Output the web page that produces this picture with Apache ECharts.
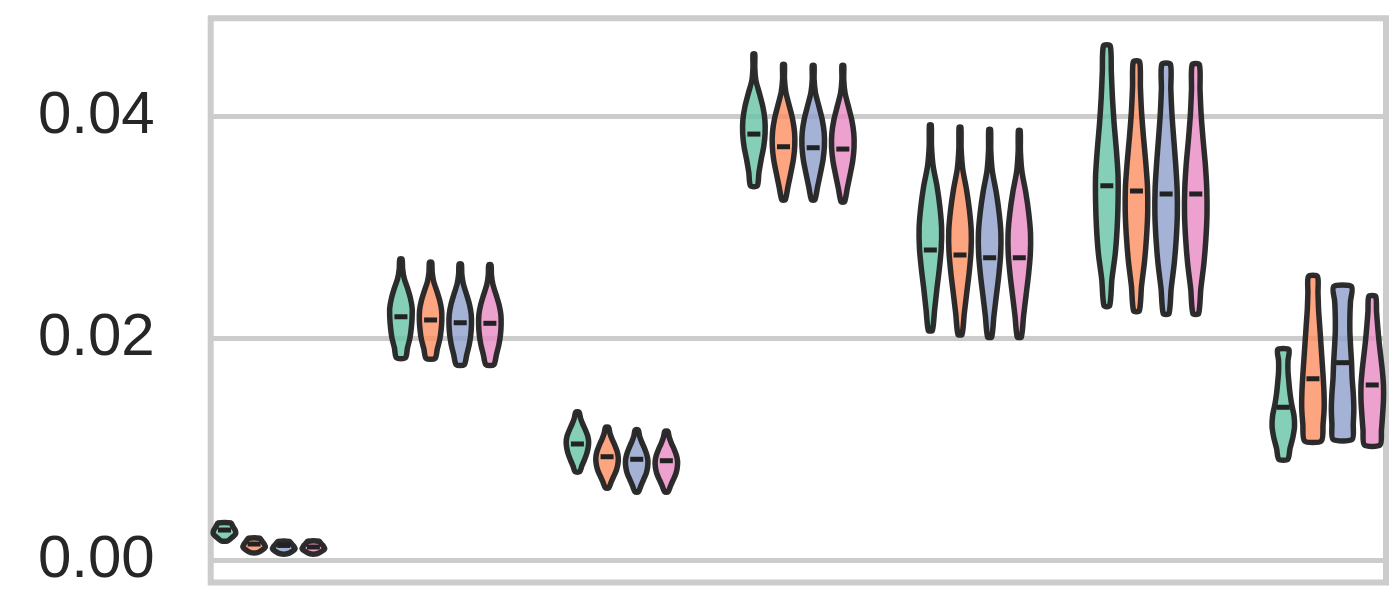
<!DOCTYPE html>
<html>
<head>
<meta charset="utf-8">
<script src="https://cdn.jsdelivr.net/npm/echarts@6/dist/echarts.min.js"></script>
<style>html,body{margin:0;padding:0;background:#fff}#c{width:1400px;height:600px}</style>
</head>
<body>
<div id="c"></div>
<script>
// ---- data ----
const groupPos = [0, 1, 2, 3, 4, 5, 6];
const hueNames = ['h1', 'h2', 'h3', 'h4'];
const hueOffset = [-0.252, -0.084, 0.084, 0.252];
const yTicks = [0, 0.02, 0.04];

// per group: [hue1, hue2, hue3, hue4]
const violinMin = [
  [0.00173, 0.00066, 0.00056, 0.00056],
  [0.01823, 0.01817, 0.01760, 0.01760],
  [0.00795, 0.00651, 0.00615, 0.00615],
  [0.03373, 0.03247, 0.03247, 0.03229],
  [0.02070, 0.02034, 0.02012, 0.02012],
  [0.02292, 0.02245, 0.02220, 0.02220],
  [0.00907, 0.01073, 0.01087, 0.01037]
];
const violinMax = [
  [0.00334, 0.00196, 0.00167, 0.00169],
  [0.02714, 0.02684, 0.02668, 0.02660],
  [0.01332, 0.01196, 0.01172, 0.01160],
  [0.04562, 0.04466, 0.04457, 0.04457],
  [0.03922, 0.03901, 0.03880, 0.03871],
  [0.04637, 0.04493, 0.04471, 0.04466],
  [0.01897, 0.02558, 0.02465, 0.02377]
];
const violinMedian = [
  [0.00270, 0.00144, 0.00131, 0.00117],
  [0.02193, 0.02164, 0.02139, 0.02134],
  [0.01046, 0.00931, 0.00908, 0.00895],
  [0.03840, 0.03726, 0.03717, 0.03705],
  [0.02795, 0.02750, 0.02725, 0.02725],
  [0.03374, 0.03327, 0.03300, 0.03300],
  [0.01377, 0.01634, 0.01779, 0.01578]
];
// relative half-width profile from bottom (min) to top (max)
const violinShape = [
  [[0.3,0.7,1.0,0.95,0.75,0.57],[0.3,0.75,1.0,0.9,0.7,0.5],[0.3,0.75,1.0,0.9,0.7,0.5],[0.3,0.75,1.0,0.9,0.7,0.5]],
  [[0.4,0.58,0.8,0.92,0.99,1.0,0.85,0.6,0.3,0.15,0.1],
   [0.4,0.6,0.82,0.94,1.0,0.98,0.82,0.56,0.28,0.14,0.1],
   [0.35,0.58,0.8,0.94,1.0,0.98,0.82,0.56,0.28,0.14,0.1],
   [0.35,0.58,0.8,0.94,1.0,0.98,0.82,0.56,0.28,0.14,0.1]],
  [[0.2,0.4,0.62,0.82,0.95,1.0,0.92,0.72,0.48,0.28,0.15],
   [0.15,0.38,0.62,0.85,0.97,1.0,0.9,0.7,0.46,0.26,0.14],
   [0.15,0.38,0.62,0.85,0.97,1.0,0.9,0.7,0.46,0.26,0.14],
   [0.15,0.38,0.62,0.85,0.97,1.0,0.9,0.7,0.46,0.26,0.14]],
  [[0.3,0.45,0.65,0.88,1.0,0.98,0.8,0.5,0.18,0.08,0.08],
   [0.15,0.4,0.65,0.88,1.0,0.98,0.8,0.5,0.2,0.08,0.08],
   [0.15,0.4,0.65,0.88,1.0,0.98,0.8,0.5,0.2,0.08,0.08],
   [0.15,0.4,0.65,0.88,1.0,0.98,0.8,0.5,0.2,0.08,0.08]],
  [[0.18,0.38,0.58,0.8,0.97,1.0,0.85,0.6,0.25,0.1,0.08],
   [0.18,0.38,0.6,0.82,0.98,1.0,0.84,0.58,0.24,0.1,0.08],
   [0.18,0.38,0.6,0.82,0.98,1.0,0.84,0.58,0.24,0.1,0.08],
   [0.18,0.38,0.6,0.82,0.98,1.0,0.84,0.58,0.24,0.1,0.08]],
  [[0.25,0.45,0.75,0.92,1.0,1.0,0.85,0.65,0.5,0.4,0.3],
   [0.25,0.45,0.72,0.9,1.0,0.98,0.82,0.62,0.45,0.35,0.28],
   [0.25,0.45,0.72,0.9,1.0,0.98,0.85,0.68,0.52,0.42,0.38],
   [0.25,0.45,0.72,0.9,1.0,0.98,0.85,0.65,0.48,0.38,0.32]],
  [[0.4,0.6,0.85,1.0,0.95,0.75,0.6,0.5,0.42,0.42,0.5],
   [0.75,0.9,1.0,0.98,0.9,0.8,0.7,0.6,0.5,0.45,0.4],
   [0.85,0.95,1.0,0.95,0.85,0.8,0.72,0.65,0.65,0.7,0.8],
   [0.7,0.82,0.92,1.0,1.0,0.9,0.75,0.6,0.48,0.38,0.3]]
];

// ---- styles ----
const hueFill = ['rgba(102,194,165,0.8)', 'rgba(252,141,98,0.8)', 'rgba(141,160,203,0.8)', 'rgba(231,138,195,0.8)'];
const edgeColor = 'rgba(34,34,34,0.95)';
const halfWidthUnits = 0.0637;

const chart = echarts.init(document.getElementById('c'));

function makeSeries(h) {
  const data = groupPos.map((g, gi) => [g + hueOffset[h], violinMin[gi][h], violinMax[gi][h], violinMedian[gi][h], gi]);
  return {
    type: 'custom',
    name: hueNames[h],
    data: data,
    encode: { x: 0, y: [1, 2, 3] },
    renderItem: function (params, api) {
      const x = api.value(0), lo = api.value(1), hi = api.value(2), med = api.value(3), gi = api.value(4);
      const prof = violinShape[gi][h];
      const hw = api.size([halfWidthUnits, 0])[0];
      const n = prof.length;
      const right = [], left = [];
      for (let k = 0; k < n; k++) {
        const v = lo + (hi - lo) * k / (n - 1);
        const p = api.coord([x, v]);
        right.push([p[0] + hw * prof[k], p[1]]);
        left.push([p[0] - hw * prof[k], p[1]]);
      }
      const pts = right.concat(left.reverse());
      const m = api.coord([x, med]);
      return {
        type: 'group',
        children: [
          { type: 'polygon', shape: { points: pts, smooth: 0.25 },
            style: { fill: hueFill[h], stroke: edgeColor, lineWidth: 5.5, lineJoin: 'round' } },
          { type: 'rect', shape: { x: m[0] - 6.5, y: m[1] - 2.5, width: 13, height: 5 },
            style: { fill: '#222222' } }
        ]
      };
    }
  };
}

chart.setOption({
  animation: false,
  backgroundColor: '#ffffff',
  grid: { left: 210.7, right: 14, top: 18.3, bottom: 17.5, show: true,
          borderColor: '#cccccc', borderWidth: 6, backgroundColor: 'transparent' },
  xAxis: { type: 'value', min: -0.33, max: 6.33, show: false },
  yAxis: {
    type: 'value', min: -0.00203, max: 0.04884,
    minInterval: 0.02, maxInterval: 0.02,
    axisLine: { show: false }, axisTick: { show: false },
    splitLine: { show: true, lineStyle: { color: '#cccccc', width: 5 } },
    axisLabel: {
      fontSize: 60, fontFamily: 'Liberation Sans', color: '#262626', margin: 56,
      formatter: function (v) {
        for (const t of yTicks) { if (Math.abs(v - t) < 1e-9) return t.toFixed(2); }
        return '';
      }
    }
  },
  series: [0, 1, 2, 3].map(makeSeries)
});
</script>
</body>
</html>
